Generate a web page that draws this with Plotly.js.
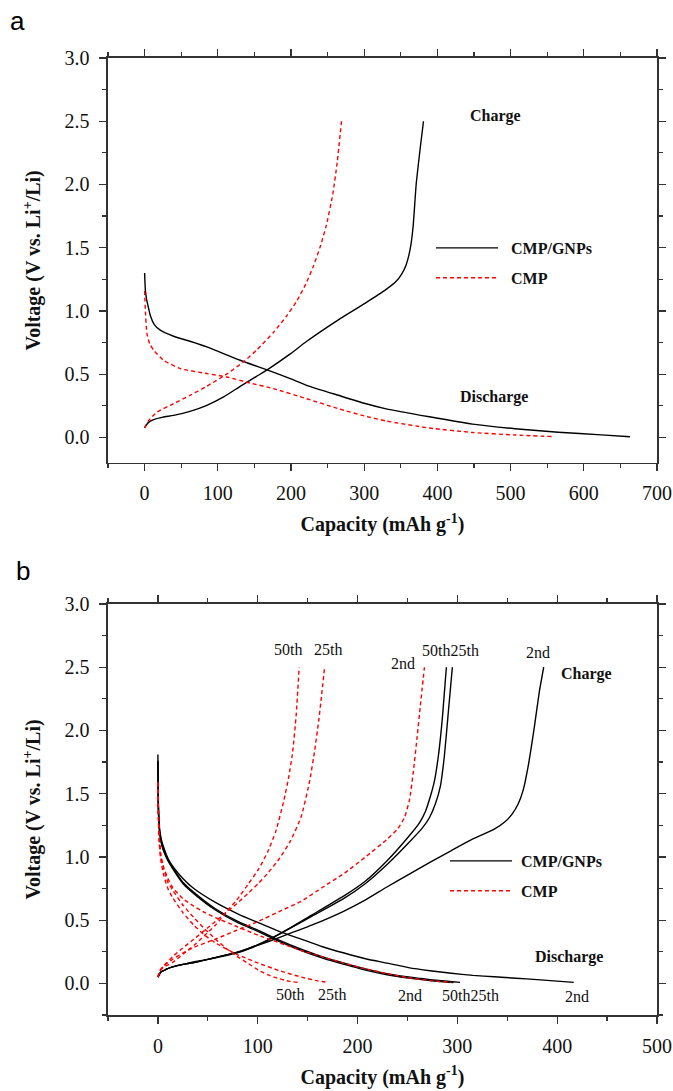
<!DOCTYPE html>
<html>
<head>
<meta charset="utf-8">
<script src="https://cdn.plot.ly/plotly-3.0.1.min.js"></script>
<style>
html,body{margin:0;padding:0;background:#fff;}
#chart{width:673px;height:1091px;}
#chart .xtick text, #chart .ytick text, #chart .legendtext, #chart .legend text { font-family: 'Liberation Serif', 'Times New Roman', serif !important; }
</style>
</head>
<body>
<div id="chart"></div>
<script>
// ---------- Panel a data (Capacity mAh/g, Voltage V) ----------
const aGnpDisX = [0,1,2.5,4.7,8,13.5,21.4,39.6,62,85,130.6,169,199,221.5,264.7,300,330,389,448,506,565,624,663];
const aGnpDisV = [1.30,1.17,1.10,1.04,0.96,0.89,0.848,0.80,0.76,0.716,0.61,0.53,0.465,0.412,0.333,0.27,0.226,0.163,0.105,0.069,0.041,0.02,0.005];
const aGnpChX  = [0,1,4.7,12.3,25,39.6,62,85,108,130.6,153,169,199,221.5,264.7,301,330,343,351,357,361,364,367,371,377,381];
const aGnpChV  = [0.074,0.085,0.115,0.14,0.16,0.174,0.206,0.254,0.32,0.404,0.483,0.54,0.66,0.76,0.93,1.06,1.17,1.23,1.29,1.36,1.44,1.53,1.68,2.0,2.31,2.5];
const aCmpDisX = [0,0.5,1,3.2,7,12.3,26,48.7,85,112,144,176,221.5,264.7,300,330,389,448,506,559];
const aCmpDisV = [1.16,1.08,1.006,0.82,0.74,0.69,0.61,0.544,0.505,0.478,0.43,0.386,0.306,0.227,0.17,0.13,0.074,0.039,0.019,0.006];
const aCmpChX  = [0,1,5,17,39.6,62,85,112,135,153,176,194,208,220,231,240,248,257,263,269];
const aCmpChV  = [0.074,0.09,0.13,0.20,0.267,0.333,0.405,0.50,0.597,0.69,0.83,0.96,1.08,1.21,1.36,1.51,1.67,1.92,2.17,2.5];

// ---------- Panel b data ----------
const bGnpCh2X  = [0,3,8,14.6,25,36,50,83,100,124,154,186,208,229,251,272,294,315,337,348,355,361,366,371,377,382,386.5];
const bGnpCh2V  = [0.05,0.09,0.11,0.13,0.15,0.17,0.19,0.25,0.30,0.37,0.46,0.57,0.66,0.76,0.86,0.955,1.05,1.14,1.22,1.28,1.34,1.42,1.53,1.72,2.02,2.3,2.5];
const bGnpCh25X = [0,3,8,14.6,25,36,50,83,100,124,154,186,208,229.6,251,265,272,278,283,287,291,295];
const bGnpCh25V = [0.05,0.09,0.11,0.13,0.15,0.165,0.19,0.255,0.305,0.40,0.53,0.67,0.79,0.94,1.11,1.23,1.31,1.42,1.56,1.8,2.15,2.5];
const bGnpCh50X = [0,3,8,14.6,25,36,50,83,100,124,154,186,208,229.6,251,262,268,273,277,281,285,289];
const bGnpCh50V = [0.05,0.09,0.11,0.13,0.15,0.165,0.19,0.255,0.305,0.40,0.54,0.69,0.81,0.97,1.16,1.27,1.36,1.48,1.6,1.8,2.1,2.5];
const bGnpDis2X  = [0,0.3,1,2,4,6,10,14.6,25,36,57.6,80,100.6,122,143.6,165,186.6,208,229.6,251,272.6,294,315.6,337,358.6,380,400,416.6];
const bGnpDis2V  = [1.81,1.5,1.3,1.2,1.12,1.07,0.99,0.93,0.83,0.75,0.64,0.55,0.48,0.41,0.35,0.29,0.24,0.195,0.16,0.125,0.10,0.08,0.063,0.052,0.041,0.03,0.018,0.008];
const bGnpDis25X = [0,0.3,1,2,4,6,10,14.6,25,36,57.6,80,100.6,122,143.6,165,186.6,208,229.6,251,272.6,290,302.6];
const bGnpDis25V = [1.76,1.45,1.28,1.18,1.1,1.05,0.98,0.92,0.80,0.72,0.59,0.49,0.42,0.34,0.27,0.21,0.16,0.115,0.077,0.05,0.03,0.017,0.008];
const bGnpDis50X = [0,0.3,1,2,4,6,10,14.6,25,36,57.6,80,100.6,122,143.6,165,186.6,208,229.6,251,272.6,286,296];
const bGnpDis50V = [1.76,1.45,1.27,1.17,1.09,1.04,0.97,0.91,0.79,0.71,0.58,0.48,0.41,0.33,0.26,0.20,0.15,0.105,0.068,0.042,0.022,0.012,0.006];
const bCmpDis2X  = [0,0.5,1.5,3,6,10,14.6,25,36,47,57.6,79,100.6,122,143.6,165,186.6,208,229.6,251,272.6,294];
const bCmpDis2V  = [1.54,1.3,1.1,0.99,0.91,0.83,0.76,0.67,0.61,0.56,0.52,0.45,0.38,0.32,0.26,0.21,0.16,0.115,0.077,0.045,0.022,0.008];
const bCmpDis25X = [0,0.5,1.5,3,6,10,14.6,25,36,47,57.6,79,100.6,122,143.6,160,170];
const bCmpDis25V = [1.59,1.3,1.1,0.97,0.85,0.75,0.68,0.56,0.46,0.38,0.32,0.23,0.16,0.10,0.05,0.02,0.008];
const bCmpDis50X = [0,0.5,1.5,3,6,10,14.6,25,36,47,57.6,68,79,90,100.6,111,122,131,140];
const bCmpDis50V = [1.59,1.35,1.15,1.02,0.90,0.80,0.74,0.62,0.52,0.43,0.35,0.28,0.215,0.16,0.105,0.065,0.036,0.018,0.008];
const bCmpCh2X  = [0,2,6,14.6,25,36,57.6,79,100.6,122,143.6,165,186.6,208,229.6,240,247,252,256,259.7,263,267];
const bCmpCh2V  = [0.05,0.1,0.14,0.19,0.24,0.285,0.35,0.42,0.49,0.57,0.65,0.76,0.87,1.0,1.14,1.22,1.31,1.45,1.68,1.95,2.2,2.5];
const bCmpCh25X = [0,2,6,14.6,25,36,47,57.6,68,79,90,100.6,111,122,133,143.6,152,157,161,164,167];
const bCmpCh25V = [0.05,0.1,0.14,0.21,0.28,0.35,0.42,0.49,0.56,0.63,0.71,0.79,0.88,0.99,1.13,1.32,1.6,1.84,2.07,2.28,2.5];
const bCmpCh50X = [0,2,6,14.6,25,36,47,57.6,68,79,90,100.6,110,118,126,131,135,138.5,141.5];
const bCmpCh50V = [0.05,0.1,0.13,0.165,0.23,0.30,0.38,0.46,0.56,0.66,0.78,0.90,1.04,1.2,1.44,1.63,1.83,2.12,2.5];

// ---------- text labels ----------
const seriesNames = ['CMP/GNPs', 'CMP'];
const panelLetters = ['a', 'b'];
const phaseLabels = ['Charge', 'Discharge'];
// cycle labels in panel b: [text, capacity, voltage]
const cycleLabelsB = [
  ['50th', 130.7, 2.64], ['25th', 170, 2.64], ['2nd', 245.5, 2.53], ['50th25th', 293, 2.63], ['2nd', 381, 2.62],
  ['50th', 132, -0.088], ['25th', 174.5, -0.088], ['2nd', 253, -0.097], ['50th25th', 313, -0.097], ['2nd', 419.6, -0.10]
];
const phasePosA = [[479, 2.54], [477, 0.32]];
const phasePosB = [[429.5, 2.45], [412, 0.207]];

const SERIF = 'Liberation Serif';
const BLACK = '#000000';
const RED = '#ff0000';

function tr(x, y, kind, xa, ya, leg, show) {
  const isGnp = kind === 0;
  const pad = leg === 'legend' ? '\u00a0\u00a0' : '\u00a0';
  return {
    x: x, y: y, type: 'scatter', mode: 'lines',
    xaxis: xa, yaxis: ya,
    name: pad + '<b>' + seriesNames[kind] + '</b>',
    legend: leg, legendgroup: leg + kind, showlegend: !!show,
    line: isGnp ? {color: BLACK, width: 1.4, shape: 'spline', smoothing: 0.5}
                : {color: RED, width: 1.4, dash: '4px,3px', shape: 'spline', smoothing: 0.5},
    hoverinfo: 'skip'
  };
}

const data = [
  tr(aGnpDisX, aGnpDisV, 0, 'x', 'y', 'legend', true),
  tr(aGnpChX, aGnpChV, 0, 'x', 'y', 'legend', false),
  tr(aCmpDisX, aCmpDisV, 1, 'x', 'y', 'legend', true),
  tr(aCmpChX, aCmpChV, 1, 'x', 'y', 'legend', false),

  tr(bGnpDis2X, bGnpDis2V, 0, 'x2', 'y2', 'legend2', true),
  tr(bGnpDis25X, bGnpDis25V, 0, 'x2', 'y2', 'legend2', false),
  tr(bGnpDis50X, bGnpDis50V, 0, 'x2', 'y2', 'legend2', false),
  tr(bGnpCh2X, bGnpCh2V, 0, 'x2', 'y2', 'legend2', false),
  tr(bGnpCh25X, bGnpCh25V, 0, 'x2', 'y2', 'legend2', false),
  tr(bGnpCh50X, bGnpCh50V, 0, 'x2', 'y2', 'legend2', false),
  tr(bCmpDis2X, bCmpDis2V, 1, 'x2', 'y2', 'legend2', true),
  tr(bCmpDis25X, bCmpDis25V, 1, 'x2', 'y2', 'legend2', false),
  tr(bCmpDis50X, bCmpDis50V, 1, 'x2', 'y2', 'legend2', false),
  tr(bCmpCh2X, bCmpCh2V, 1, 'x2', 'y2', 'legend2', false),
  tr(bCmpCh25X, bCmpCh25V, 1, 'x2', 'y2', 'legend2', false),
  tr(bCmpCh50X, bCmpCh50V, 1, 'x2', 'y2', 'legend2', false)
];

// ---------- layout geometry (pixels) ----------
const W = 673, H = 1091;
const M = {l: 108, r: 16, t: 58, b: 76};
const PW = W - M.l - M.r, PH = H - M.t - M.b;
const fy = py => (H - M.b - py) / PH;   // pixel row -> paper y
const fx = px => (px - M.l) / PW;       // pixel col -> paper x

const AX = '#333333';
const TXT = '#111111';
function xAxis(range, anchor, titleText) {
  return {
    domain: [0, 1], anchor: anchor, range: range, tick0: 0, dtick: 100,
    showline: true, linecolor: AX, linewidth: 1.6, mirror: 'allticks',
    ticks: 'outside', ticklen: 7, tickwidth: 1.3, tickcolor: AX,
    minor: {dtick: 50, ticks: 'outside', ticklen: 4, tickwidth: 1.2, tickcolor: AX},
    showgrid: false, zeroline: false,
    tickfont: {family: SERIF, size: 20, color: TXT}, ticklabelstandoff: 5,
    automargin: false,
    title: {text: titleText, font: {family: SERIF, size: 20, color: TXT}, standoff: 14}
  };
}
function yAxis(range, anchor, domain, titleText) {
  return {
    domain: domain, anchor: anchor, range: range, tick0: 0, dtick: 0.5, tickformat: '.1f',
    showline: true, linecolor: AX, linewidth: 1.6, mirror: 'allticks',
    ticks: 'outside', ticklen: 7, tickwidth: 1.3, tickcolor: AX,
    minor: {dtick: 0.25, ticks: 'outside', ticklen: 4, tickwidth: 1.2, tickcolor: AX},
    showgrid: false, zeroline: false,
    tickfont: {family: SERIF, size: 20, color: TXT}, ticklabelstandoff: 6,
    automargin: false,
    title: {text: titleText, font: {family: SERIF, size: 20, color: TXT}, standoff: 18}
  };
}

const xTitle = '<b>Capacity (mAh g<sup>-1</sup>)</b>';
const yTitle = '<b>Voltage (V vs. Li<sup>+</sup>/Li)</b>';

const annotations = [];
panelLetters.forEach((t, i) => {
  annotations.push({
    text: t, xref: 'paper', yref: 'paper', x: fx(i === 0 ? 17 : 23), y: fy(i === 0 ? 21 : 571),
    xanchor: 'center', yanchor: 'middle', showarrow: false,
    font: {family: 'Liberation Sans', size: 26, color: '#000'}
  });
});
phaseLabels.forEach((t, i) => {
  annotations.push({text: '<b>' + t + '</b>', xref: 'x', yref: 'y', x: phasePosA[i][0], y: phasePosA[i][1],
    xanchor: 'center', yanchor: 'middle', showarrow: false, font: {family: SERIF, size: 16, color: TXT}});
  annotations.push({text: '<b>' + t + '</b>', xref: 'x2', yref: 'y2', x: phasePosB[i][0], y: phasePosB[i][1],
    xanchor: 'center', yanchor: 'middle', showarrow: false, font: {family: SERIF, size: 16, color: TXT}});
});
cycleLabelsB.forEach(c => {
  annotations.push({text: c[0], xref: 'x2', yref: 'y2', x: c[1], y: c[2],
    xanchor: 'center', yanchor: 'middle', showarrow: false, font: {family: SERIF, size: 16, color: TXT}});
});

const legendBase = {
  xanchor: 'left', yanchor: 'top', bgcolor: 'rgba(0,0,0,0)', borderwidth: 0,
  itemwidth: 62, tracegroupgap: 6, traceorder: 'grouped',
  font: {family: SERIF, size: 16, color: TXT}, itemclick: false, itemdoubleclick: false
};

const layout = {
  width: W, height: H, margin: M,
  font: {family: SERIF, size: 16, color: TXT},
  paper_bgcolor: '#ffffff', plot_bgcolor: '#ffffff',
  showlegend: true,
  xaxis: xAxis([-50, 700], 'y', xTitle),
  yaxis: yAxis([-0.2, 3.0], 'x', [fy(462.7), 1], yTitle),
  xaxis2: xAxis([-50, 500], 'y2', xTitle),
  yaxis2: yAxis([-0.25, 3.0], 'x2', [0, fy(604)], yTitle),
  legend: Object.assign({}, legendBase, {x: fx(431), y: fy(231)}),
  legend2: Object.assign({}, legendBase, {x: fx(445), y: fy(844)}),
  annotations: annotations
};

Plotly.newPlot('chart', data, layout, {staticPlot: true, displayModeBar: false});
</script>
</body>
</html>
